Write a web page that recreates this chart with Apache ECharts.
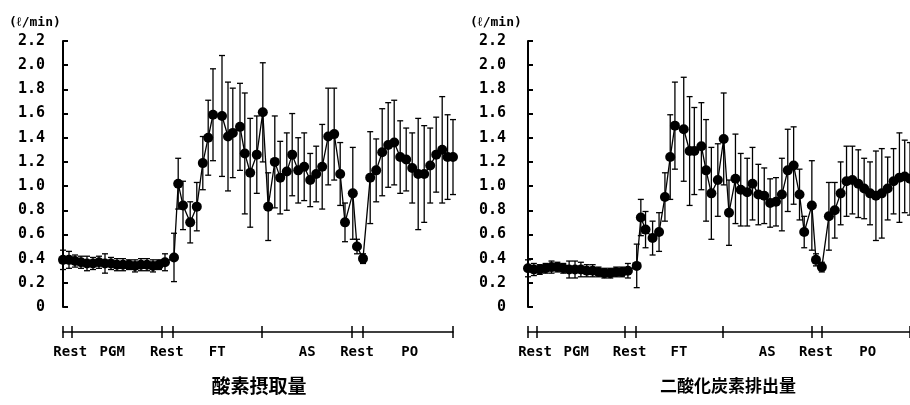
<!DOCTYPE html>
<html>
<head>
<meta charset="utf-8">
<script src="https://cdn.jsdelivr.net/npm/echarts@6/dist/echarts.min.js"></script>
<style>
  html, body { margin: 0; padding: 0; background: #fff; }
  #chart { width: 910px; height: 405px; }
</style>
</head>
<body>
<div id="chart"></div>
<script>
// time position of each measurement (1 unit ~ one sample step)
const xPos = [0, 1, 2, 3, 4, 5, 6, 7, 8, 9, 10, 11, 12, 13, 14, 15, 16, 17, 18.5,
  19.2, 20, 21.2, 22.3, 23.3, 24.2, 25, 26.5, 27.5, 28.3, 29.5, 30.3, 31.2, 32.3, 33.3,
  34.2, 35.3, 36.2, 37.3, 38.2, 39.2, 40.2, 41.2, 42.2, 43.2, 44.2, 45.2, 46.2,
  47, 48.3, 49, 50,
  51.2, 52.2, 53.2, 54.2, 55.2, 56.2, 57.2, 58.2, 59.2, 60.2, 61.2, 62.2, 63.2, 64.1, 65];

// 酸素摂取量 (l/min)
const o2Mean = [0.39, 0.39, 0.38, 0.37, 0.36, 0.36, 0.37, 0.36, 0.36, 0.35, 0.35, 0.35, 0.34, 0.35, 0.35, 0.34, 0.35, 0.37, 0.41,
  1.02, 0.84, 0.70, 0.83, 1.19, 1.40, 1.59, 1.58, 1.41, 1.44, 1.49, 1.27, 1.11, 1.26, 1.61,
  0.83, 1.20, 1.07, 1.12, 1.26, 1.13, 1.16, 1.05, 1.10, 1.16, 1.41, 1.43, 1.10,
  0.70, 0.94, 0.50, 0.40,
  1.07, 1.13, 1.28, 1.34, 1.36, 1.24, 1.22, 1.15, 1.10, 1.10, 1.17, 1.26, 1.30, 1.24, 1.24];
const o2Err = [0.08, 0.07, 0.05, 0.05, 0.06, 0.05, 0.05, 0.08, 0.05, 0.05, 0.05, 0.04, 0.05, 0.05, 0.05, 0.05, 0.04, 0.07, 0.20,
  0.21, 0.20, 0.17, 0.20, 0.22, 0.31, 0.38, 0.50, 0.45, 0.37, 0.36, 0.50, 0.45, 0.32, 0.41,
  0.28, 0.38, 0.30, 0.32, 0.34, 0.27, 0.28, 0.22, 0.23, 0.35, 0.40, 0.38, 0.26,
  0.16, 0.38, 0.06, 0.04,
  0.38, 0.26, 0.36, 0.35, 0.35, 0.30, 0.26, 0.29, 0.46, 0.40, 0.31, 0.31, 0.44, 0.35, 0.31];

// 二酸化炭素排出量 (l/min)
const co2Mean = [0.32, 0.31, 0.31, 0.32, 0.33, 0.33, 0.32, 0.31, 0.31, 0.31, 0.30, 0.30, 0.29, 0.28, 0.28, 0.29, 0.29, 0.30, 0.34,
  0.74, 0.64, 0.57, 0.62, 0.91, 1.24, 1.50, 1.47, 1.29, 1.29, 1.33, 1.13, 0.94, 1.05, 1.39,
  0.78, 1.06, 0.97, 0.95, 1.02, 0.93, 0.92, 0.86, 0.87, 0.93, 1.13, 1.17, 0.93,
  0.62, 0.84, 0.39, 0.33,
  0.75, 0.80, 0.94, 1.04, 1.05, 1.02, 0.98, 0.94, 0.92, 0.94, 0.98, 1.04, 1.07, 1.08, 1.06];
const co2Err = [0.07, 0.05, 0.04, 0.04, 0.05, 0.04, 0.04, 0.07, 0.07, 0.06, 0.05, 0.05, 0.04, 0.04, 0.04, 0.04, 0.04, 0.06, 0.18,
  0.15, 0.15, 0.14, 0.16, 0.20, 0.35, 0.36, 0.43, 0.45, 0.36, 0.36, 0.42, 0.38, 0.30, 0.38,
  0.27, 0.37, 0.30, 0.28, 0.30, 0.25, 0.23, 0.20, 0.20, 0.30, 0.34, 0.32, 0.21,
  0.13, 0.37, 0.05, 0.04,
  0.28, 0.23, 0.26, 0.29, 0.28, 0.28, 0.25, 0.26, 0.37, 0.37, 0.26, 0.27, 0.37, 0.30, 0.30];

// phase timeline under each panel
const phaseBounds = [0, 1.5, 16.5, 18.3, 33.2, 48.2, 50, 65];
const phaseNames = ['Rest', 'PGM', 'Rest', 'FT', 'AS', 'Rest', 'PO'];
const phaseLabelPos = [1.2, 8.2, 17.3, 25.7, 40.7, 49, 57.8];

const panelTitles = ['酸素摂取量', '二酸化炭素排出量'];
const unitLabel = '(ℓ/min)';

const mono = 'DejaVu Sans Mono';
const black = '#000';

function phaseName(v) {
  let best = 0;
  phaseLabelPos.forEach((p, i) => {
    if (Math.abs(p - v) < Math.abs(phaseLabelPos[best] - v)) best = i;
  });
  return phaseNames[best];
}

function errBar(params, api) {
  const x = api.value(0), y = api.value(1), e = api.value(2);
  const top = api.coord([x, y + e]);
  const bot = api.coord([x, y - e]);
  const w = 3;
  const st = { stroke: black, lineWidth: 1.3 };
  return {
    type: 'group',
    children: [
      { type: 'line', shape: { x1: top[0], y1: top[1], x2: bot[0], y2: bot[1] }, style: st },
      { type: 'line', shape: { x1: top[0] - w, y1: top[1], x2: top[0] + w, y2: top[1] }, style: st },
      { type: 'line', shape: { x1: bot[0] - w, y1: bot[1], x2: bot[0] + w, y2: bot[1] }, style: st }
    ]
  };
}

function timeAxes(g) {
  const common = {
    type: 'value', gridIndex: g, min: 0, max: 65,
    position: 'bottom', offset: 25, splitLine: { show: false }
  };
  return [
    Object.assign({}, common, {
      axisLine: { show: true, onZero: false, lineStyle: { color: black, width: 1.5 } },
      axisTick: { show: true, inside: true, length: 6, customValues: phaseBounds,
        lineStyle: { color: black, width: 1.5 } },
      axisLabel: { show: true, customValues: phaseLabelPos, formatter: phaseName,
        margin: 13, color: black, fontFamily: mono, fontWeight: 'bold', fontSize: 14 }
    }),
    Object.assign({}, common, {
      axisLine: { show: false, onZero: false },
      axisTick: { show: true, inside: false, length: 6, customValues: phaseBounds,
        lineStyle: { color: black, width: 1.5 } },
      axisLabel: { show: false }
    })
  ];
}

function valueAxis(g, off) {
  return {
    type: 'value', gridIndex: g, min: 0, max: 2.2, interval: 0.2, offset: off,
    axisLine: { show: true, lineStyle: { color: black, width: 2 } },
    axisTick: { show: true, inside: true, length: 5, lineStyle: { color: black, width: 2 } },
    splitLine: { show: false },
    axisLabel: {
      margin: 7, color: black, fontFamily: mono, fontWeight: 'bold', fontSize: 15,
      formatter: v => (v === 0 ? '0' : v.toFixed(1))
    }
  };
}

function panelSeries(mean, err, g) {
  const xi = g * 2;
  return [
    {
      type: 'custom', xAxisIndex: xi, yAxisIndex: g, clip: false,
      renderItem: errBar, encode: { x: 0, y: 1 },
      data: xPos.map((x, i) => [x, mean[i], err[i]]), z: 2
    },
    {
      type: 'line', xAxisIndex: xi, yAxisIndex: g, clip: false,
      data: xPos.map((x, i) => [x, mean[i]]),
      symbol: 'circle', symbolSize: 10,
      itemStyle: { color: black },
      lineStyle: { color: black, width: 1.3 },
      animation: false, z: 3
    }
  ];
}

const chart = echarts.init(document.getElementById('chart'), null, { renderer: 'canvas' });

chart.setOption({
  backgroundColor: '#fff',
  animation: false,
  grid: [
    { left: 63, top: 41, width: 390, height: 266 },
    { left: 528, top: 41, width: 390, height: 266 }
  ],
  xAxis: timeAxes(0).concat(timeAxes(1)),
  yAxis: [valueAxis(0, 11), valueAxis(1, 15)],
  series: panelSeries(o2Mean, o2Err, 0).concat(panelSeries(co2Mean, co2Err, 1)),
  graphic: [
    { type: 'text', x: 9, y: 23, style: { text: unitLabel, fill: black,
      font: 'bold 13px "' + mono + '"', verticalAlign: 'middle' } },
    { type: 'text', x: 470, y: 23, style: { text: unitLabel, fill: black,
      font: 'bold 13px "' + mono + '"', verticalAlign: 'middle' } },
    { type: 'text', x: 259, y: 386, style: { text: panelTitles[0], fill: black,
      font: 'bold 19px "Noto Sans CJK JP"', align: 'center', verticalAlign: 'middle' } },
    { type: 'text', x: 728, y: 386, style: { text: panelTitles[1], fill: black,
      font: 'bold 17px "Noto Sans CJK JP"', align: 'center', verticalAlign: 'middle' } }
  ]
});
</script>
</body>
</html>
